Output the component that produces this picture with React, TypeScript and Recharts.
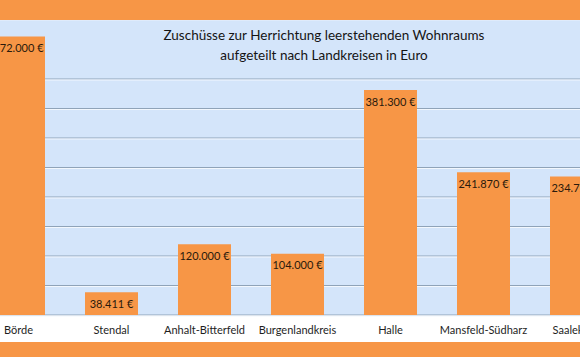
import React from 'react';
import { BarChart, Bar, XAxis, YAxis, CartesianGrid, LabelList } from 'recharts';

const categories = ['Börde', 'Stendal', 'Anhalt-Bitterfeld', 'Burgenlandkreis', 'Halle', 'Mansfeld-Südharz', 'Saalekreis'];
const values = [472000, 38411, 120000, 104000, 381300, 241870, 234750];
const yTicks = [0, 50000, 100000, 150000, 200000, 250000, 300000, 350000, 400000, 450000, 500000];
const titleLines = ['Zuschüsse zur Herrichtung leerstehenden Wohnraums', 'aufgeteilt nach Landkreisen in Euro'];

const data = categories.map((name, i) => ({ name, value: values[i] }));

const fmt = (v: number) => String(v).replace(/\B(?=(\d{3})+(?!\d))/g, '.') + ' €';

const FONT = 'Lato, "Open Sans", sans-serif';

const gridLine = (props: any) => {
  const { x1, x2, y1, index } = props;
  if (y1 < 22) {
    return <line key={'g' + index} x1={x1} x2={x2} y1={y1} y2={y1} stroke="#EAF2FC" strokeWidth={1} />;
  }
  return (
    <g key={'g' + index}>
      <line x1={x1} x2={x2} y1={y1} y2={y1} stroke="#8FA3B8" strokeWidth={1} />
      <line x1={x1} x2={x2} y1={y1 + 1} y2={y1 + 1} stroke="#F2F7FD" strokeWidth={1} />
    </g>
  );
};

const BarLabel = (props: any) => {
  const { x, y, width, value } = props;
  return (
    <text
      x={Number(x) + Number(width) / 2}
      y={Number(y) + 11}
      textAnchor="middle"
      dominantBaseline="central"
      fill="#2A1A0C"
      fontSize={11}
      fontFamily={FONT}
    >
      {fmt(Number(value))}
    </text>
  );
};

export default function App() {
  return (
    <div style={{ position: 'fixed', left: 0, top: 0, width: 580, height: 357, overflow: 'hidden', background: '#F79646' }}>
      <div style={{ position: 'absolute', left: 0, top: 20, width: 580, height: 322, background: '#FFFFFF' }} />
      <div style={{ position: 'absolute', left: -28, top: 20 }}>
        <BarChart width={651} height={322} data={data} margin={{ top: 0, right: 0, left: 0, bottom: 0 }} barCategoryGap={20}>
          <CartesianGrid fill="#D4E5FA" vertical={false} horizontal={gridLine} />
          <XAxis
            dataKey="name"
            axisLine={false}
            tickLine={false}
            interval={0}
            height={27}
            tickMargin={5}
            tick={{ fill: '#1E1E1E', fontSize: 11, fontFamily: FONT }}
          />
          <YAxis hide domain={[0, 500000]} ticks={yTicks} width={0} />
          <Bar dataKey="value" fill="#F79646" isAnimationActive={false}>
            <LabelList dataKey="value" content={BarLabel} />
          </Bar>
        </BarChart>
      </div>
      <div
        style={{
          position: 'absolute',
          left: 163,
          top: 25,
          width: 322,
          textAlign: 'center',
          fontFamily: FONT,
          fontSize: 13.5,
          lineHeight: '20px',
          color: '#141414',
          whiteSpace: 'nowrap',
        }}
      >
        <div>{titleLines[0]}</div>
        <div>{titleLines[1]}</div>
      </div>
    </div>
  );
}
